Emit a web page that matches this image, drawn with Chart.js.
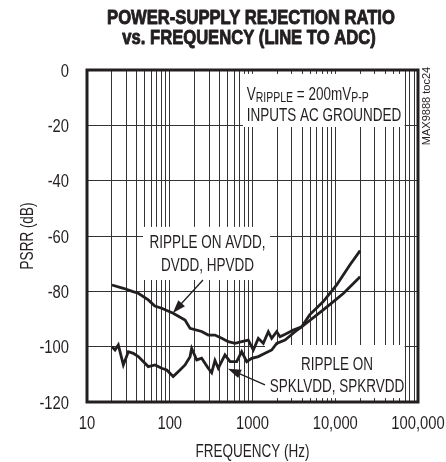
<!DOCTYPE html>
<html>
<head>
<meta charset="utf-8">
<script src="https://cdn.jsdelivr.net/npm/chart.js@4"></script>
<style>
  html, body { margin: 0; padding: 0; background: #fff; }
  #wrap { width: 446px; height: 462px; position: relative; }
</style>
</head>
<body>
<div id="wrap"><canvas id="c" width="446" height="462"></canvas></div>
<script>
// ---- data -------------------------------------------------------------------
const avddFreq = [20, 27.5, 36, 41.7, 55, 66, 80, 110, 153, 176, 243, 292, 352, 425, 510, 615, 740, 890, 1023, 1175, 1350, 1553, 1706, 1960, 2150, 2590, 3110, 3930, 7160, 10000, 12600, 20000];
const avddDb   = [-77.7, -78.9, -80.1, -80.7, -83.1, -85.3, -86.1, -87.9, -90.4, -93.4, -94.5, -95.8, -95.8, -97, -98.2, -98.8, -98.2, -97.6, -101.2, -97, -98.8, -94.6, -97, -94.6, -96.4, -95.2, -94, -92.8, -86.7, -83.2, -80.7, -74.7];

const spkFreq = [20, 21.8, 23.9, 27.5, 31.6, 36.3, 41.7, 55, 66.4, 80, 92, 110, 133, 153, 176, 184, 212, 243, 292, 321, 352, 386, 465, 535, 644, 740, 851, 977, 1175, 1415, 1706, 1960, 2470, 3265, 3930, 4900, 7160, 10400, 15000, 20000];
const spkDb   = [-100, -101.2, -99.4, -106.6, -101.8, -102.4, -103.6, -107.2, -106.6, -107.8, -108.4, -110.8, -108.4, -106.6, -103.6, -100.6, -104.8, -104.2, -107.8, -109.4, -105, -107.8, -103, -105.4, -105.4, -101.8, -105.4, -104.2, -103.6, -102.4, -101.2, -98.8, -97.6, -94.6, -92.8, -88.5, -83.7, -77.7, -70.5, -65.3];

const xDecades   = [10, 100, 1000, 10000, 100000];
const xTickText  = ['10', '100', '1000', '10,000', '100,000'];
const yTicks     = [0, -20, -40, -60, -80, -100, -120];

const titleLines = ['POWER-SUPPLY REJECTION RATIO', 'vs. FREQUENCY (LINE TO ADC)'];
const xTitle = 'FREQUENCY (Hz)';
const yTitle = 'PSRR (dB)';
const tocText = 'MAX9888 toc24';

// annotation anchors in data units (frequency, dB); text anchors are baselines
const noteBoxes = [
  [768, -1.4, 69000, -20.6],
  [47.5, -56.7, 1627, -75.9],
  [1416, -99.4, 69000, -118.6],
];
const noteLines = [
  { f: 286,   db: -64.3,  text: 'RIPPLE ON AVDD,' },
  { f: 286,   db: -72.6,  text: 'DVDD, HPVDD' },
  { f: 10500, db: -108.4, text: 'RIPPLE ON' },
  { f: 10500, db: -116.5, text: 'SPKLVDD, SPKRVDD' },
  { f: 851,   db: -18.4,  text: 'INPUTS AC GROUNDED', align: 'left' },
];
const rippleLine = { f: 851, db: -10.8, parts: [['V', 0], ['RIPPLE', 1], [' = 200mV', 0], ['P-P', 1]] };
const arrows = [
  { from: [252, -75.9], to: [109, -87.8] },
  { from: [1416, -113.8], to: [506, -108] },
];

// ---- helpers ----------------------------------------------------------------
const FONT = "'Liberation Sans', Arial, sans-serif";
const INK = '#231f20';
const SX_TEXT = 0.75;   // condensed look for plain text
const SX_NUM  = 0.82;   // condensed look for numbers

const xGrid = [];
for (let d = 0; d < xDecades.length - 1; d++)
  for (let m = 1; m < 10; m++) xGrid.push(xDecades[d] * m);
xGrid.push(xDecades[xDecades.length - 1]);

function pts(fs, ds) { return fs.map((f, i) => ({ x: f, y: ds[i] })); }

function label(ctx, text, x, y, o) {
  const sx = o.sx ?? SX_TEXT;
  ctx.save();
  ctx.font = (o.bold ? 'bold ' : '') + o.size + 'px ' + FONT;
  ctx.translate(x, y);
  if (o.rot) ctx.rotate(o.rot);
  ctx.scale(sx, 1);
  ctx.textAlign = o.align || 'center';
  ctx.textBaseline = 'alphabetic';
  ctx.fillStyle = INK;
  ctx.fillText(text, 0, 0);
  if (o.heavy) {   // fake a black weight
    ctx.strokeStyle = INK;
    ctx.lineWidth = o.heavy;
    ctx.lineJoin = 'round';
    ctx.strokeText(text, 0, 0);
  }
  const w = ctx.measureText(text).width * sx;
  ctx.restore();
  return w;
}

function drawArrow(ctx, x0, y0, x1, y1) {
  const a = Math.atan2(y1 - y0, x1 - x0);
  const len = 13, half = 4.5;
  ctx.beginPath();
  ctx.moveTo(x0, y0);
  ctx.lineTo(x1 - Math.cos(a) * len * 0.8, y1 - Math.sin(a) * len * 0.8);
  ctx.lineWidth = 1.3;
  ctx.strokeStyle = INK;
  ctx.stroke();
  ctx.beginPath();
  ctx.moveTo(x1, y1);
  ctx.lineTo(x1 - Math.cos(a) * len - Math.sin(a) * half, y1 - Math.sin(a) * len + Math.cos(a) * half);
  ctx.lineTo(x1 - Math.cos(a) * len + Math.sin(a) * half, y1 - Math.sin(a) * len - Math.cos(a) * half);
  ctx.closePath();
  ctx.fillStyle = INK;
  ctx.fill();
}

const decor = {
  id: 'decor',
  beforeDatasetsDraw(chart) {
    const { ctx, scales: { x, y } } = chart;
    ctx.save();
    // white label boxes over the grid
    ctx.fillStyle = '#fff';
    for (const [f0, d0, f1, d1] of noteBoxes) {
      const px0 = x.getPixelForValue(f0), px1 = x.getPixelForValue(f1);
      const py0 = y.getPixelForValue(d0), py1 = y.getPixelForValue(d1);
      ctx.fillRect(px0, py0, px1 - px0, py1 - py0);
    }
    for (const l of noteLines)
      label(ctx, l.text, x.getPixelForValue(l.f), y.getPixelForValue(l.db), { size: 18, align: l.align });
    // V_RIPPLE = 200mV_P-P
    let px = x.getPixelForValue(rippleLine.f);
    const py = y.getPixelForValue(rippleLine.db);
    for (const [t, sub] of rippleLine.parts)
      px += label(ctx, t, px, py + (sub ? 2 : 0), { size: sub ? 14 : 18, align: 'left' });
    for (const a of arrows) {
      drawArrow(ctx,
        x.getPixelForValue(a.from[0]), y.getPixelForValue(a.from[1]),
        x.getPixelForValue(a.to[0]), y.getPixelForValue(a.to[1]));
    }
    ctx.restore();
  },
  afterDraw(chart) {
    const { ctx, chartArea: ca, scales: { x, y } } = chart;
    ctx.save();
    ctx.strokeStyle = INK;
    ctx.lineWidth = 3;
    ctx.strokeRect(ca.left, ca.top, ca.right - ca.left, ca.bottom - ca.top);
    ctx.restore();
    // tick labels
    xDecades.forEach((v, i) => label(ctx, xTickText[i], x.getPixelForValue(v), ca.bottom + 27, { size: 18, sx: SX_NUM }));
    yTicks.forEach(v => label(ctx, String(v), ca.left - 18, y.getPixelForValue(v) + 6.5, { size: 18, sx: SX_NUM, align: 'right' }));
    // axis titles
    label(ctx, xTitle, (ca.left + ca.right) / 2, 457, { size: 18 });
    label(ctx, yTitle, 33, (ca.top + ca.bottom) / 2, { size: 18, rot: -Math.PI / 2 });
    // chart title
    label(ctx, titleLines[0], 251, 24, { size: 20, bold: true, sx: 0.83, heavy: 0.9 });
    label(ctx, titleLines[1], 249, 44, { size: 20, bold: true, sx: 0.83, heavy: 0.9 });
    // figure id, rotated
    label(ctx, tocText, ca.right + 12, ca.top + 36, { size: 11, sx: 1, rot: -Math.PI / 2 });
  },
};

new Chart(document.getElementById('c'), {
  type: 'line',
  data: {
    datasets: [
      { data: pts(avddFreq, avddDb), borderColor: INK, borderWidth: 2.8, pointRadius: 0, tension: 0 },
      { data: pts(spkFreq, spkDb),   borderColor: INK, borderWidth: 2.8, pointRadius: 0, tension: 0 },
    ],
  },
  options: {
    responsive: false,
    animation: false,
    devicePixelRatio: 1,
    layout: { padding: { top: 70, right: 28, left: 0, bottom: 0 } },
    plugins: { legend: { display: false }, tooltip: { enabled: false } },
    scales: {
      x: {
        type: 'logarithmic', min: 10, max: 100000,
        afterBuildTicks: s => { s.ticks = xGrid.map(v => ({ value: v })); },
        afterFit: s => { s.height = 60; },
        grid: { color: '#333', lineWidth: 1, drawTicks: false },
        border: { display: false },
        ticks: { display: false },
      },
      y: {
        type: 'linear', min: -120, max: 0,
        afterBuildTicks: s => { s.ticks = yTicks.map(v => ({ value: v })); },
        afterFit: s => { s.width = 87; },
        grid: { color: '#333', lineWidth: 1, drawTicks: false },
        border: { display: false },
        ticks: { display: false },
      },
    },
  },
  plugins: [decor],
});
</script>
</body>
</html>
